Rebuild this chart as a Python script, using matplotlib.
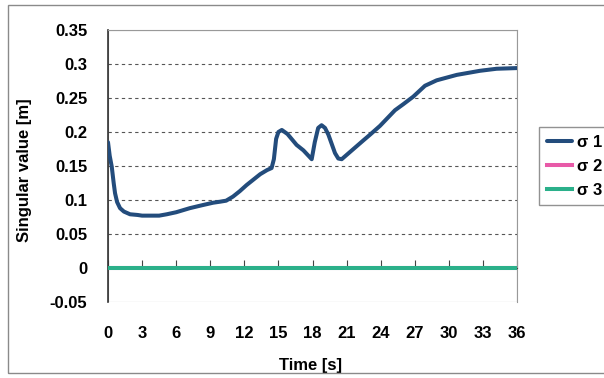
import matplotlib.pyplot as plt
from matplotlib.patches import Rectangle

plt.rcParams['font.family'] = ['Liberation Sans', 'DejaVu Sans']
plt.rcParams['font.weight'] = 'bold'

# time [s] and singular values [m]
time_s1 = [0, 0.15, 0.33, 0.5, 0.62, 0.8, 1.06, 1.4, 1.94, 2.6, 3.0, 3.7, 4.5, 5.17,
           6.0, 7.2, 8.2, 9.25, 9.86, 10.4, 11.0, 11.6, 12.2, 12.8, 13.4, 14.0, 14.4,
           14.6, 14.8, 15.0, 15.3, 15.8, 16.6, 17.2, 17.93, 18.2, 18.5, 18.8, 19.1,
           19.4, 19.98, 20.27, 20.57, 21.5, 22.5, 23.06, 23.94, 25.26, 26.0, 26.87,
           27.9, 28.93, 30.7, 32.74, 34.2, 36.0]
sigma1 = [0.185, 0.165, 0.149, 0.125, 0.110, 0.097, 0.088, 0.083, 0.079, 0.078, 0.077,
          0.077, 0.077, 0.079, 0.082, 0.088, 0.092, 0.096, 0.0975, 0.099, 0.105, 0.113,
          0.122, 0.130, 0.138, 0.144, 0.147, 0.160, 0.190, 0.200, 0.203, 0.197, 0.181,
          0.173, 0.160, 0.185, 0.206, 0.210, 0.206, 0.196, 0.169, 0.161, 0.160, 0.1735,
          0.188, 0.196, 0.209, 0.232, 0.241, 0.252, 0.268, 0.276, 0.284, 0.290, 0.293,
          0.294]
time_flat = [0, 36]
sigma2 = [0, 0]
sigma3 = [0, 0]

xticks = list(range(0, 37, 3))
yticks = [-0.05, 0, 0.05, 0.1, 0.15, 0.2, 0.25, 0.3, 0.35]
ytick_labels = ['-0.05', '0', '0.05', '0.1', '0.15', '0.2', '0.25', '0.3', '0.35']

fig = plt.figure(figsize=(6.04, 3.78), dpi=100)
fig.patches.append(Rectangle((8 / 604, 5 / 378), 600 / 604, 368 / 378, transform=fig.transFigure,
                             fill=False, edgecolor='#8a8a8a', linewidth=1.0))
ax = fig.add_axes([108 / 604, 1 - 302 / 378, 409 / 604, 272 / 378])

ax.plot(time_s1, sigma1, color='#234c7c', lw=2.9, label='σ 1', solid_capstyle='round', zorder=4)
ax.plot(time_flat, sigma2, color='#e85aa8', lw=2.9, label='σ 2', zorder=3)
ax.plot(time_flat, sigma3, color='#2bb08a', lw=2.9, label='σ 3', zorder=3)

ax.set_xlim(0, 36)
ax.set_ylim(-0.05, 0.35)
ax.set_xticks(xticks)
ax.set_yticks(yticks)
ax.set_yticklabels(ytick_labels)

# horizontal grid only, dashed
for v in yticks[2:-1]:
    ax.axhline(v, color='#555555', lw=0.8, ls=(0, (3, 3)), zorder=1)

# x axis sits at zero, labels stay under the plot area
ax.spines['bottom'].set_position(('data', 0))
ax.spines['bottom'].set_color('#444444')
ax.spines['left'].set_color('#333333')
ax.spines['left'].set_linewidth(1.2)
for s in ['top', 'right']:
    ax.spines[s].set_color('#999999')
    ax.spines[s].set_linewidth(0.8)
ax.add_patch(Rectangle((0, 0), 1, 1, transform=ax.transAxes, fill=False,
                       edgecolor='#999999', lw=0.8, zorder=0))

ax.tick_params(axis='x', direction='in', length=5.5, width=0.8, color='#444444',
               pad=42, labelsize=12)
ax.tick_params(axis='y', length=0, pad=15, labelsize=12)
for t in ax.xaxis.get_major_ticks():
    t.tick1line.set_zorder(5)

ax.set_xlabel('Time [s]', fontsize=12, fontweight='bold')
ax.xaxis.set_label_coords(0.494, -0.205)
ax.set_ylabel('Singular value [m]', fontsize=12, fontweight='bold')
ax.yaxis.set_label_coords(-0.186, 0.485)

fig.legend(loc='upper left', bbox_to_anchor=(539 / 604, 1 - 127 / 378), fontsize=12,
           frameon=True, fancybox=False, edgecolor='#777777', handlelength=1.55,
           handletextpad=0.3, labelspacing=0.55, borderpad=0.45, borderaxespad=0)

fig.savefig('out.png', dpi=100)
